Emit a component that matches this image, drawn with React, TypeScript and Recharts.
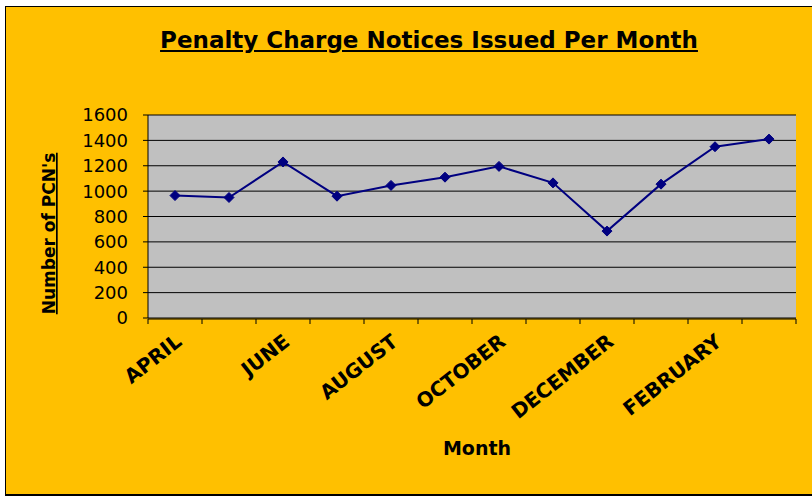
import { LineChart, Line, XAxis, YAxis, CartesianGrid } from 'recharts'

const months = [
  'APRIL', 'MAY', 'JUNE', 'JULY', 'AUGUST', 'SEPTEMBER',
  'OCTOBER', 'NOVEMBER', 'DECEMBER', 'JANUARY', 'FEBRUARY', 'MARCH',
]
const pcns = [965, 950, 1230, 960, 1045, 1110, 1195, 1065, 685, 1055, 1350, 1410]
const yTicks = [0, 200, 400, 600, 800, 1000, 1200, 1400, 1600]
const edgeTicks = [0, 1, 2, 3, 4, 5, 6, 7, 8, 9, 10, 11, 12]

const data = months.map((month, i) => ({ month, pcns: pcns[i], edge: i }))

const FONT = '"DejaVu Sans", sans-serif'
const NAVY = '#000080'

function Diamond(props: any) {
  const { cx, cy, index } = props
  if (cx == null || cy == null) return null
  const r = 5
  return (
    <path
      key={`d-${index}`}
      d={`M${cx},${cy - r}L${cx + r},${cy}L${cx},${cy + r}L${cx - r},${cy}Z`}
      fill={NAVY}
      stroke={NAVY}
    />
  )
}

// tick marks only, no text, on the category boundaries
function NoText() {
  return <g />
}

function MonthTick(props: any) {
  const { x, y, payload } = props
  return (
    <g transform={`translate(${x + 8},${y + 26})`}>
      <text
        textAnchor="end"
        transform="rotate(-38)"
        fontFamily={FONT}
        fontWeight="bold"
        fontSize={20}
        fill="#000"
      >
        {payload.value}
      </text>
    </g>
  )
}

function MonthLabel(props: any) {
  const { viewBox } = props
  return (
    <text
      x={viewBox.x + viewBox.width / 2 + 5}
      y={viewBox.y + 137}
      textAnchor="middle"
      fontFamily={FONT}
      fontWeight="bold"
      fontSize={19}
      fill="#000"
    >
      Month
    </text>
  )
}

function PcnLabel(props: any) {
  const { viewBox } = props
  const x = viewBox.x + 49
  const y = viewBox.y + viewBox.height / 2 + 17
  return (
    <text
      x={x}
      y={y}
      transform={`rotate(-90, ${x}, ${y})`}
      textAnchor="middle"
      fontFamily={FONT}
      fontWeight="bold"
      fontSize={17}
      fill="#000"
      style={{ textDecoration: 'underline' }}
    >
      Number of PCN's
    </text>
  )
}

export default function App() {
  return (
    <div
      style={{
        position: 'absolute',
        left: 5,
        top: 6,
        width: 807,
        height: 490,
        boxSizing: 'border-box',
        borderTop: '1px solid #000',
        borderLeft: '1px solid #000',
        borderBottom: '2px solid #000',
        background: '#FFC000',
      }}
    >
      <div
        style={{
          position: 'absolute',
          left: 423,
          top: 22,
          transform: 'translateX(-50%)',
          whiteSpace: 'nowrap',
          fontFamily: FONT,
          fontWeight: 'bold',
          fontSize: 23,
          lineHeight: '22px',
          textDecoration: 'underline',
          color: '#000',
        }}
      >
        Penalty Charge Notices Issued Per Month
      </div>
      <LineChart
        width={806}
        height={487}
        data={data}
        margin={{ top: 108, right: 16, left: 0, bottom: 174 }}
      >
        <CartesianGrid
          xAxisId="cat"
          yAxisId="left"
          vertical={false}
          stroke="#000"
          fill="#C0C0C0"
          fillOpacity={1}
        />
        <XAxis
          xAxisId="edge"
          dataKey="edge"
          type="number"
          domain={[0, 12]}
          allowDataOverflow
          ticks={edgeTicks}
          interval={0}
          tick={<NoText />}
          height={1}
          tickSize={5}
          axisLine={{ stroke: '#000' }}
          tickLine={{ stroke: '#000' }}
        />
        <XAxis
          xAxisId="cat"
          dataKey="month"
          scale="band"
          interval={1}
          height={1}
          tickSize={0}
          tickMargin={0}
          axisLine={false}
          tickLine={false}
          tick={<MonthTick />}
          label={<MonthLabel />}
        />
        <YAxis
          yAxisId="left"
          domain={[0, 1600]}
          ticks={yTicks}
          width={142}
          tickSize={5}
          tickMargin={15}
          interval={0}
          axisLine={{ stroke: '#000' }}
          tickLine={{ stroke: '#000' }}
          tick={{ fill: '#000', fontFamily: FONT, fontSize: 18 }}
          label={<PcnLabel />}
        />
        <YAxis
          yAxisId="right"
          orientation="right"
          domain={[0, 1600]}
          width={0}
          tick={false}
          tickLine={false}
          axisLine={{ stroke: '#808080' }}
        />
        <Line
          xAxisId="cat"
          yAxisId="left"
          dataKey="pcns"
          stroke={NAVY}
          strokeWidth={2}
          dot={<Diamond />}
          activeDot={false}
          isAnimationActive={false}
        />
      </LineChart>
    </div>
  )
}
